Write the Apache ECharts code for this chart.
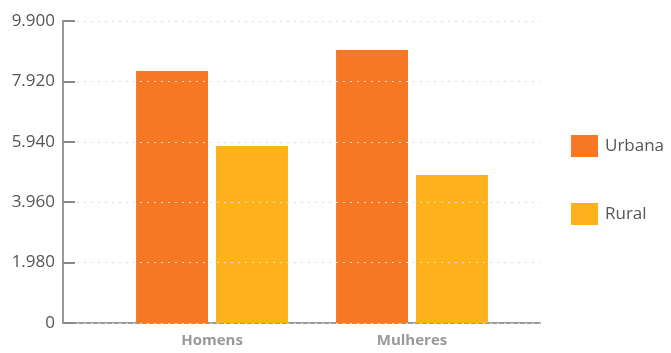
<!DOCTYPE html>
<html><head><meta charset="utf-8">
<script src="https://cdn.jsdelivr.net/npm/echarts@6/dist/echarts.min.js"></script>
<style>html,body{margin:0;padding:0;background:#fff}#c{width:671px;height:353px}</style>
</head><body><div id="c"></div>
<script>
const categories = ['Homens', 'Mulheres'];
const urbana = [8260, 8950];
const rural = [5800, 4850];
const seriesNames = ['Urbana', 'Rural'];
const yMin = 0, yMax = 9900, yStep = 1980;

const fmt = v => String(v).replace(/\B(?=(\d{3})+(?!\d))/g, '.');
const font = '"Open Sans", "Noto Sans", sans-serif';
const chart = echarts.init(document.getElementById('c'), null, {renderer: 'canvas'});
chart.setOption({
  animation: false,
  textStyle: {fontFamily: font},
  color: ['#F67824', '#FDB21C'],
  legend: {
    orient: 'vertical', left: 571, top: 135, padding: 0, itemWidth: 27, itemHeight: 22, itemGap: 46,
    icon: 'rect', data: seriesNames,
    textStyle: {fontSize: 17, color: '#555', fontFamily: font, padding: [0, 0, 0, 2]}
  },
  grid: [
    {left: 63, right: 131, top: 21, bottom: 30, containLabel: false},
    {left: 112, width: 400, top: 21, bottom: 30, containLabel: false}
  ],
  xAxis: [
    {type: 'category', gridIndex: 0, data: [''], axisLine: {lineStyle: {color: '#999', width: 2}},
     axisTick: {show: false}, axisLabel: {show: false}},
    {type: 'category', gridIndex: 1, data: categories, axisLine: {show: false}, axisTick: {show: false},
     axisLabel: {margin: 10, fontSize: 15, fontWeight: 'bold', color: '#999', fontFamily: font}}
  ],
  yAxis: [
    {type: 'value', gridIndex: 0, min: yMin, max: yMax, interval: yStep, z: 5,
     axisLine: {show: true, lineStyle: {color: '#999', width: 2}},
     axisTick: {show: true, inside: true, length: 12, lineStyle: {color: '#888', width: 2}},
     axisLabel: {margin: 8, fontSize: 17, color: '#555', fontFamily: font, formatter: fmt},
     splitLine: {show: true, lineStyle: {color: '#ddd', type: [2, 5], width: 1}}},
    {type: 'value', gridIndex: 1, min: yMin, max: yMax, interval: yStep, show: false, splitLine: {show: false}}
  ],
  series: [
    {name: seriesNames[0], type: 'bar', xAxisIndex: 1, yAxisIndex: 1, data: urbana, barWidth: 72, barGap: '11%'},
    {name: seriesNames[1], type: 'bar', xAxisIndex: 1, yAxisIndex: 1, data: rural, barWidth: 72, barGap: '11%'}
  ]
});
</script></body></html>
